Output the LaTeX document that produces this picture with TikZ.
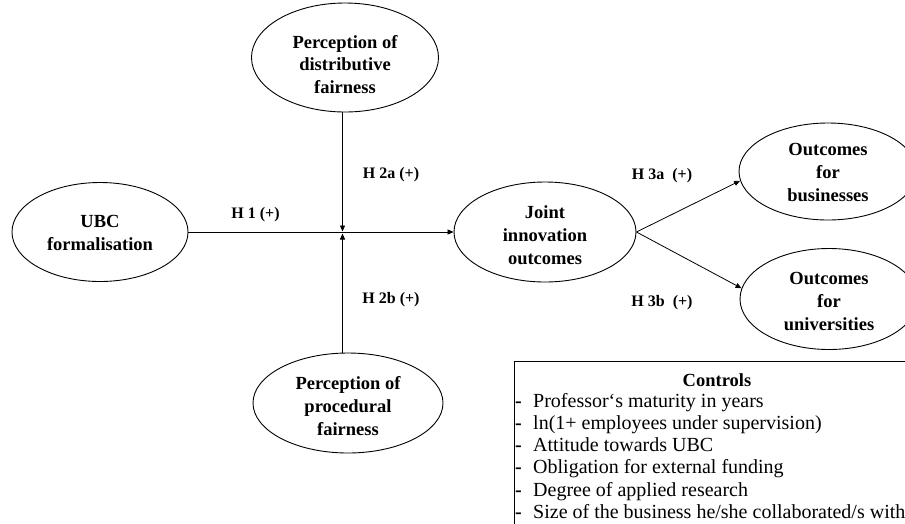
\documentclass[tikz,border=0pt]{standalone}
\usepackage{fontspec}
\setmainfont{Liberation Serif}
\usetikzlibrary{shapes.geometric,arrows.meta}
\begin{document}
\begin{tikzpicture}[x=1pt,y=-1pt,
  ell/.style={draw,ellipse,line width=0.9pt,inner sep=0pt},
  etxt/.style={align=center,inner sep=0pt,font=\fontsize{18.5}{22.8}\selectfont\bfseries},
  hyp/.style={font=\fontsize{16}{19}\selectfont\bfseries,inner sep=0pt},
  arr/.style={line width=0.8pt,-{Triangle[length=6pt,width=5pt]}},
  item/.style={anchor=base west,inner sep=0pt,font=\fontsize{20}{22}\selectfont},
  dashmark/.style={anchor=base,inner sep=0pt,font=\fontsize{20}{22}\selectfont\bfseries},
  ctrltitle/.style={anchor=base,inner sep=0pt,font=\fontsize{18.5}{22}\selectfont\bfseries}]
\useasboundingbox (0,0) rectangle (905,523);
% ellipses
\node[ell,minimum width=176pt,minimum height=99pt,
  label={[etxt,yshift=-1pt]center:{UBC\\formalisation}}] (ubc) at (100,232) {};
\node[ell,minimum width=187pt,minimum height=109pt,
  label={[etxt,yshift=-7pt]center:{Perception of\\distributive\\fairness}}] (dist) at (345,57.5) {};
\node[ell,minimum width=190pt,minimum height=100pt,
  label={[etxt,yshift=-3pt]center:{Perception of\\procedural\\fairness}}] (proc) at (348,403) {};
\node[ell,minimum width=182pt,minimum height=100pt,
  label={[etxt,yshift=-3pt]center:{Joint\\innovation\\outcomes}}] (joint) at (545,232) {};
\node[ell,minimum width=178pt,minimum height=97pt,
  label={[etxt,yshift=-1pt]center:{Outcomes\\for\\businesses}}] (bus) at (828,171.5) {};
\node[ell,minimum width=178pt,minimum height=101pt,
  label={[etxt,yshift=-2.5pt]center:{Outcomes\\for\\universities}}] (univ) at (829,299) {};
% connectors
\coordinate (mtop) at (342.5,231.5);
\coordinate (mbot) at (342.5,233.5);
\draw[arr] (ubc.east) -- (joint.west);
\draw[arr] (dist.south -| mtop) -- (mtop);
\draw[arr] (proc.north -| mbot) -- (mbot);
\draw[arr] (joint.east) -- (bus.186);
\draw[arr] (joint.east) -- (univ.173);
% hypothesis labels
\node[hyp] (h1) at (255.5,215) {H 1 (+)};
\node[hyp] (h2a) at (391,175) {H 2a (+)};
\node[hyp] (h2b) at (391,300) {H 2b (+)};
\node[hyp] (h3a) at (662,176) {H 3a \ (+)};
\node[hyp] (h3b) at (662,303) {H 3b \ (+)};
% controls box
\node[draw,line width=0.8pt,anchor=north west,minimum width=420pt,minimum height=200pt,inner sep=0pt] (ctrlbox) at (514,361) {};
\node[ctrltitle] (ctitle) at (717,386) {Controls};
\node[dashmark] (d1) at (518.5,407) {-};
\node[item] (c1) at (533,407) {Professor‘s maturity in years};
\node[dashmark] (d2) at (518.5,429.3) {-};
\node[item] (c2) at (533,429.3) {ln(1+ employees under supervision)};
\node[dashmark] (d3) at (518.5,451.6) {-};
\node[item] (c3) at (533,451.6) {Attitude towards UBC};
\node[dashmark] (d4) at (518.5,473.9) {-};
\node[item] (c4) at (533,473.9) {Obligation for external funding};
\node[dashmark] (d5) at (518.5,496.2) {-};
\node[item] (c5) at (533,496.2) {Degree of applied research};
\node[dashmark] (d6) at (518.5,518.5) {-};
\node[item] (c6) at (533,518.5) {Size of the business he/she collaborated/s with};
\end{tikzpicture}
\end{document}
